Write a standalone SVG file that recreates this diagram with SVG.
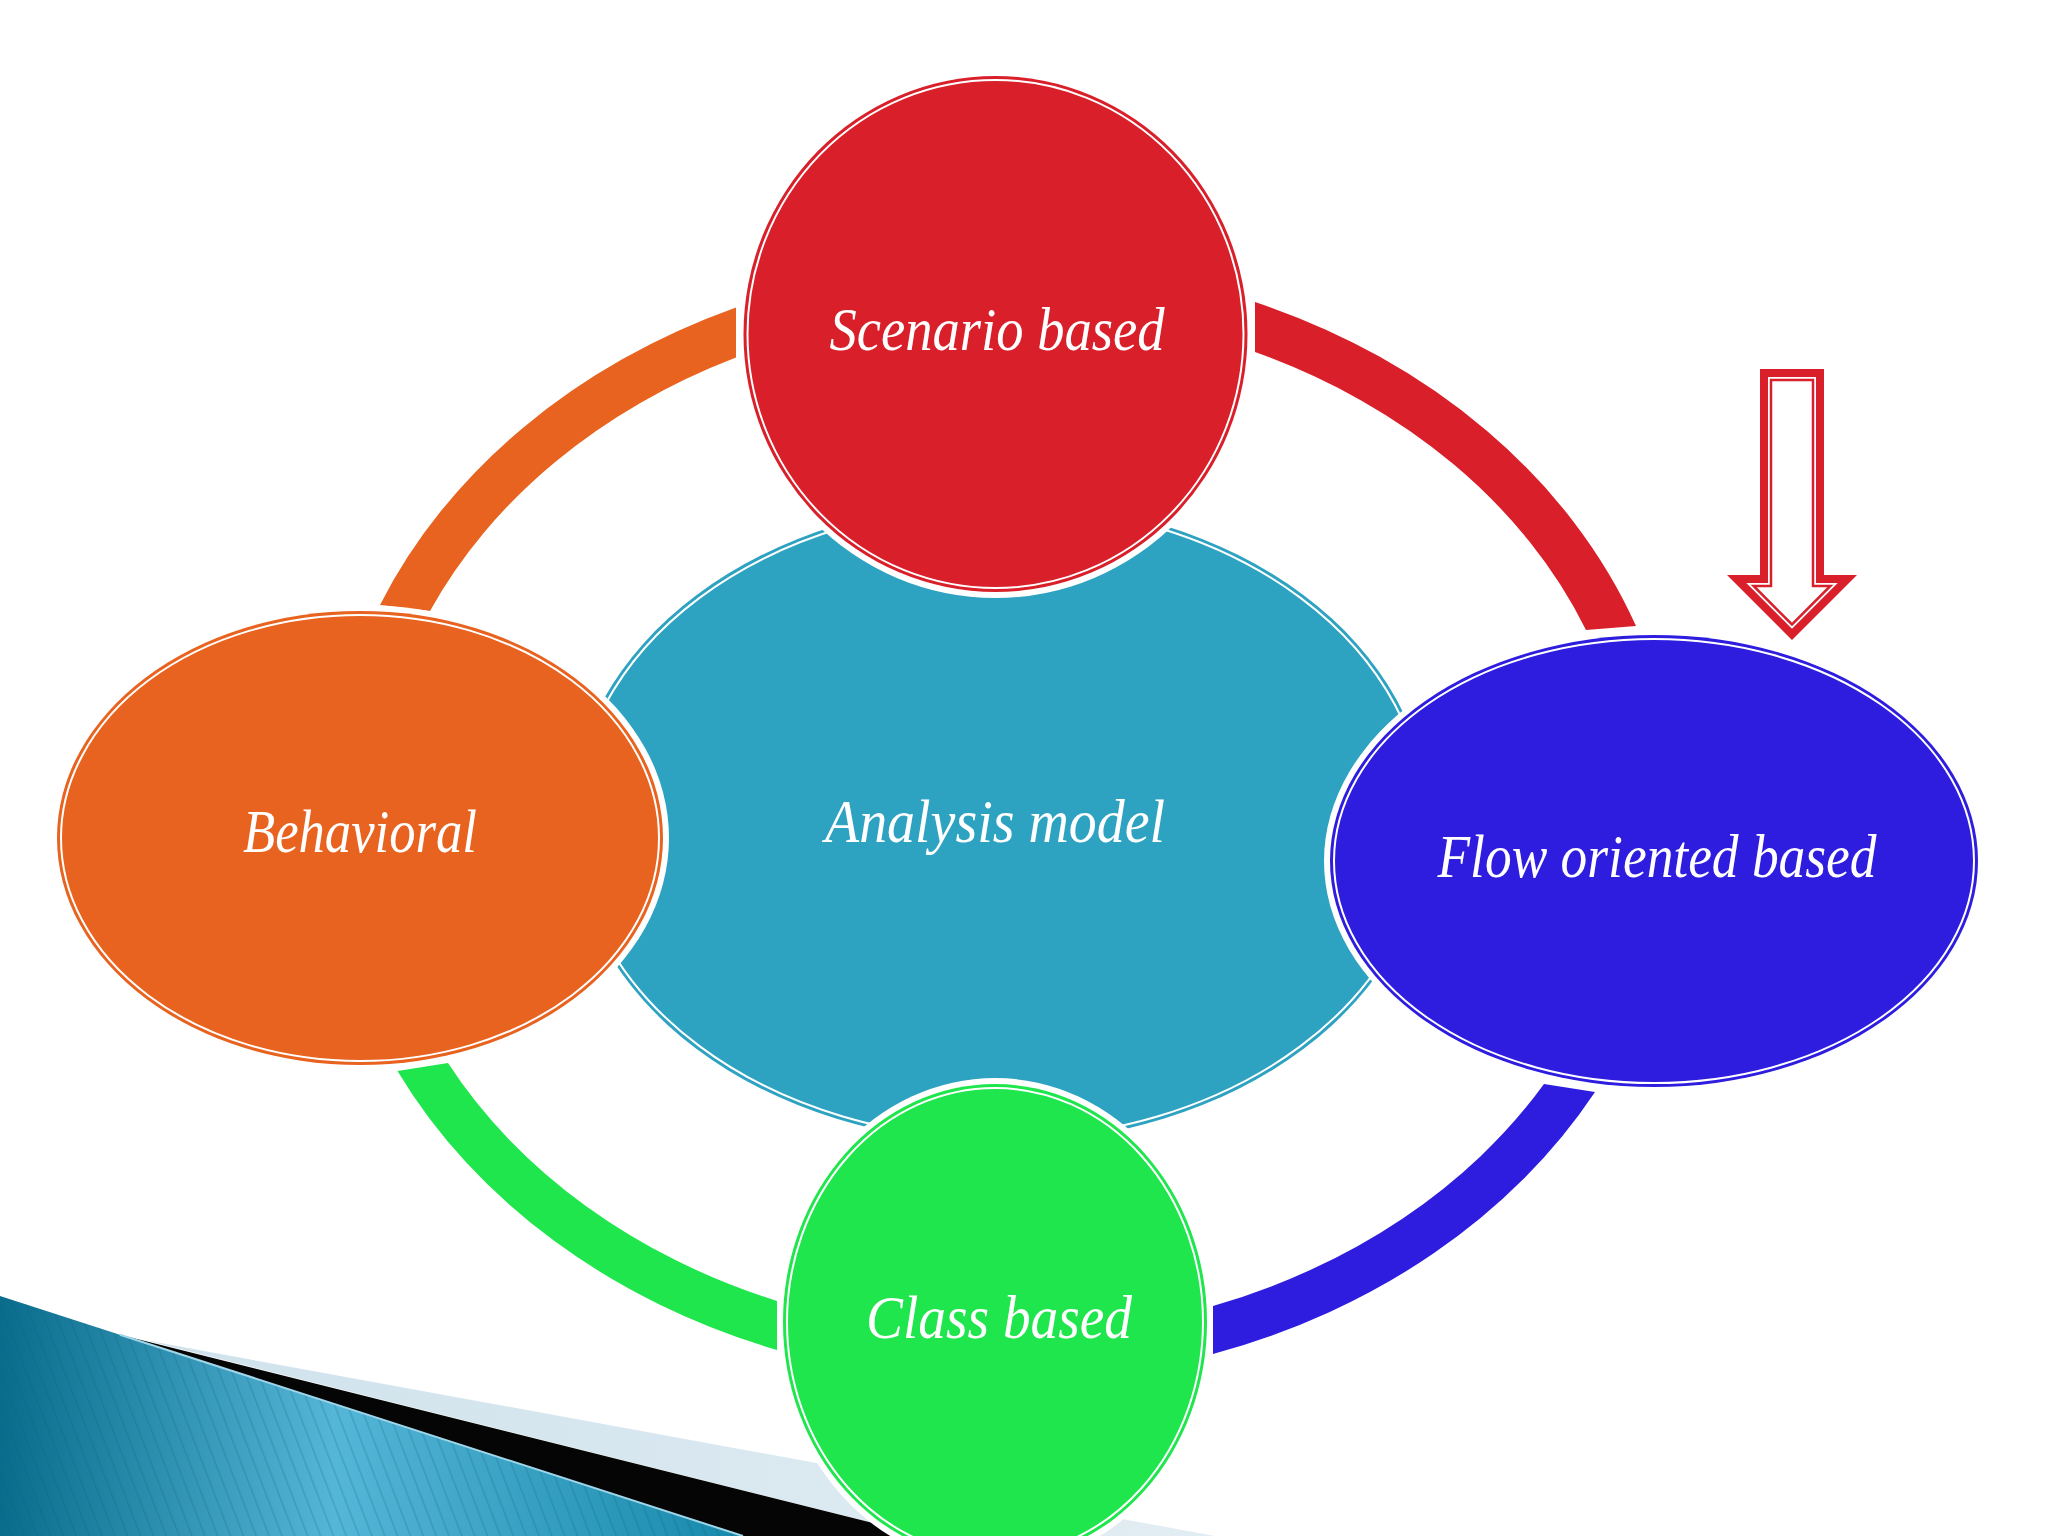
<svg xmlns="http://www.w3.org/2000/svg" width="2048" height="1536" viewBox="0 0 2048 1536">
  <defs>
    <linearGradient id="tealGrad" x1="0" y1="0" x2="1" y2="0">
      <stop offset="0" stop-color="#0a6c8c"/>
      <stop offset="0.45" stop-color="#55b6d8"/>
      <stop offset="1" stop-color="#1789ab"/>
    </linearGradient>
    <linearGradient id="lightGrad" x1="0" y1="0" x2="1" y2="0">
      <stop offset="0" stop-color="#cfe2ec"/>
      <stop offset="1" stop-color="#e2edf3"/>
    </linearGradient>
    <pattern id="stripes" width="12" height="12" patternUnits="userSpaceOnUse" patternTransform="rotate(-21)">
      <rect x="0" y="0" width="1.6" height="12" fill="#0b5a75" fill-opacity="0.22"/>
    </pattern>
    <style>
      .halo { fill: #ffffff; }
      .inner { fill: none; stroke: #ffffff; stroke-width: 2; }
      .label { font-family: "Liberation Serif", "DejaVu Serif", serif; font-style: italic; font-size: 62px; fill: #ffffff; text-anchor: middle; }
    </style>
  </defs>

  <rect x="0" y="0" width="2048" height="1536" fill="#ffffff"/>

  <g id="decoration">
    <polygon points="144,1340 1215,1536 925,1536" fill="url(#lightGrad)"/>
    <polygon points="120,1334.7 925,1536 743,1536" fill="#050505"/>
    <polygon points="0,1296 743,1536 0,1536" fill="url(#tealGrad)"/>
    <polygon points="0,1296 743,1536 0,1536" fill="url(#stripes)"/>
    <line x1="120" y1="1334.7" x2="743" y2="1536" stroke="#9fd6ea" stroke-width="2"/>
  </g>

  <g id="connectors">
    <path id="arc-orange" d="M736,307.5 A676,560 0 0 0 380,605 L430,611 A629,513 0 0 1 736,357.5 Z" fill="#e8631f"/>
    <path id="arc-red" d="M1255,302 A676,560 0 0 1 1636,626 L1586,630 A629,513 0 0 0 1255,352 Z" fill="#d91f2a"/>
    <path id="arc-blue" d="M1595,1092 A676,560 0 0 1 1213,1354 L1213,1306 A629,513 0 0 0 1544,1084 Z" fill="#2e1ddf"/>
    <path id="arc-green" d="M397.5,1071 A676,560 0 0 0 777,1350 L777,1301 A629,513 0 0 1 448,1063 Z" fill="#1ee64c"/>
  </g>

  <g id="node-analysis">
    <ellipse cx="1000" cy="822" rx="429" ry="321" fill="#2ea2c1"/>
    <ellipse class="inner" cx="1000" cy="822" rx="425" ry="317"/>
    <text class="label" x="995" y="842" textLength="340" lengthAdjust="spacingAndGlyphs">Analysis model</text>
  </g>

  <g id="node-scenario">
    <ellipse class="halo" cx="995.5" cy="334" rx="258" ry="264"/>
    <ellipse cx="995.5" cy="334" rx="252" ry="258" fill="#d91f2a"/>
    <ellipse class="inner" cx="995.5" cy="334" rx="248" ry="254"/>
    <text class="label" x="997" y="350" textLength="335" lengthAdjust="spacingAndGlyphs">Scenario based</text>
  </g>

  <g id="node-behavioral">
    <ellipse class="halo" cx="360" cy="838" rx="309" ry="233"/>
    <ellipse cx="360" cy="838" rx="303" ry="227" fill="#e8631f"/>
    <ellipse class="inner" cx="360" cy="838" rx="299" ry="223"/>
    <text class="label" x="360" y="852" textLength="234" lengthAdjust="spacingAndGlyphs">Behavioral</text>
  </g>

  <g id="node-flow">
    <ellipse class="halo" cx="1654" cy="861" rx="330" ry="232"/>
    <ellipse cx="1654" cy="861" rx="324" ry="226" fill="#2e1ddf"/>
    <ellipse class="inner" cx="1654" cy="861" rx="320" ry="222"/>
    <text class="label" x="1657" y="877" textLength="439" lengthAdjust="spacingAndGlyphs">Flow oriented based</text>
  </g>

  <g id="node-class">
    <ellipse class="halo" cx="995" cy="1322" rx="218" ry="244"/>
    <ellipse cx="995" cy="1322" rx="212" ry="238" fill="#1ee64c"/>
    <ellipse class="inner" cx="995" cy="1322" rx="208" ry="234"/>
    <text class="label" x="999" y="1338" textLength="266" lengthAdjust="spacingAndGlyphs">Class based</text>
  </g>

  <g id="arrow">
    <polygon points="1760,369 1824,369 1824,575 1857,575 1792,640 1727,575 1760,575" fill="#d9202a"/>
    <polygon points="1768,377 1816,377 1816,583 1837.7,583 1792,628.7 1746.3,583 1768,583" fill="#ffffff"/>
    <polygon points="1771,380 1813,380 1813,586 1830.4,586 1792,624.4 1753.6,586 1771,586" fill="none" stroke="#d9202a" stroke-width="2.5"/>
  </g>
</svg>
